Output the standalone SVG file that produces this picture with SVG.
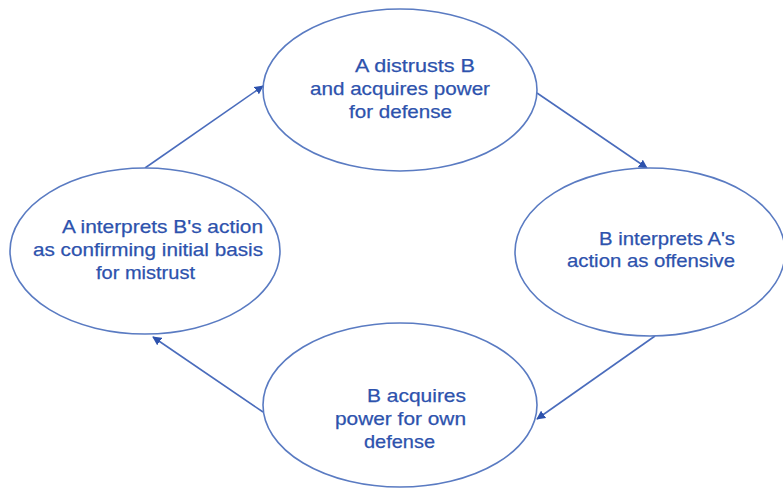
<svg xmlns="http://www.w3.org/2000/svg" width="783" height="491" viewBox="0 0 783 491">
<style>
.node ellipse{fill:#fff;stroke:#5a7bc2;stroke-width:1.6}
.node text{font-family:"Liberation Sans",Arial,sans-serif;font-size:18.5px;fill:#2d52ad;stroke:#2d52ad;stroke-width:0.25}
.conn line{stroke:#4a6cbc;stroke-width:1.6;fill:none}
</style>
<defs>
<marker id="ah" viewBox="0 0 10 10" refX="9" refY="5" markerWidth="9" markerHeight="9" markerUnits="userSpaceOnUse" orient="auto">
<path d="M0,0 L10,5 L0,10 z" fill="#2d52ad"/>
</marker>
</defs>
<rect width="783" height="491" fill="#fff"/>
<g id="connectors" class="conn">
<line x1="145" y1="168" x2="263" y2="86" marker-end="url(#ah)"/>
<line x1="537" y1="93" x2="647" y2="168" marker-end="url(#ah)"/>
<line x1="655" y1="336" x2="537" y2="419" marker-end="url(#ah)"/>
<line x1="263" y1="412" x2="153" y2="337" marker-end="url(#ah)"/>
</g>
<g id="n_top" class="node">
<ellipse cx="400" cy="90" rx="137" ry="81"/>
<text x="355" y="72" textLength="120" lengthAdjust="spacingAndGlyphs">A distrusts B</text>
<text x="310" y="95" textLength="180" lengthAdjust="spacingAndGlyphs">and acquires power</text>
<text x="349" y="118" textLength="103" lengthAdjust="spacingAndGlyphs">for defense</text>
</g>
<g id="n_right" class="node">
<ellipse cx="650" cy="252" rx="135" ry="84"/>
<text x="599" y="245" textLength="136" lengthAdjust="spacingAndGlyphs">B interprets A's</text>
<text x="567" y="267" textLength="168" lengthAdjust="spacingAndGlyphs">action as offensive</text>
</g>
<g id="n_bottom" class="node">
<ellipse cx="400" cy="405" rx="137" ry="82"/>
<text x="367" y="402" textLength="99" lengthAdjust="spacingAndGlyphs">B acquires</text>
<text x="335" y="425" textLength="131" lengthAdjust="spacingAndGlyphs">power for own</text>
<text x="364" y="448" textLength="71" lengthAdjust="spacingAndGlyphs">defense</text>
</g>
<g id="n_left" class="node">
<ellipse cx="145" cy="251" rx="135" ry="83"/>
<text x="62" y="233" textLength="201" lengthAdjust="spacingAndGlyphs">A interprets B's action</text>
<text x="33" y="256" textLength="230" lengthAdjust="spacingAndGlyphs">as confirming initial basis</text>
<text x="96" y="279" textLength="99" lengthAdjust="spacingAndGlyphs">for mistrust</text>
</g>
</svg>
